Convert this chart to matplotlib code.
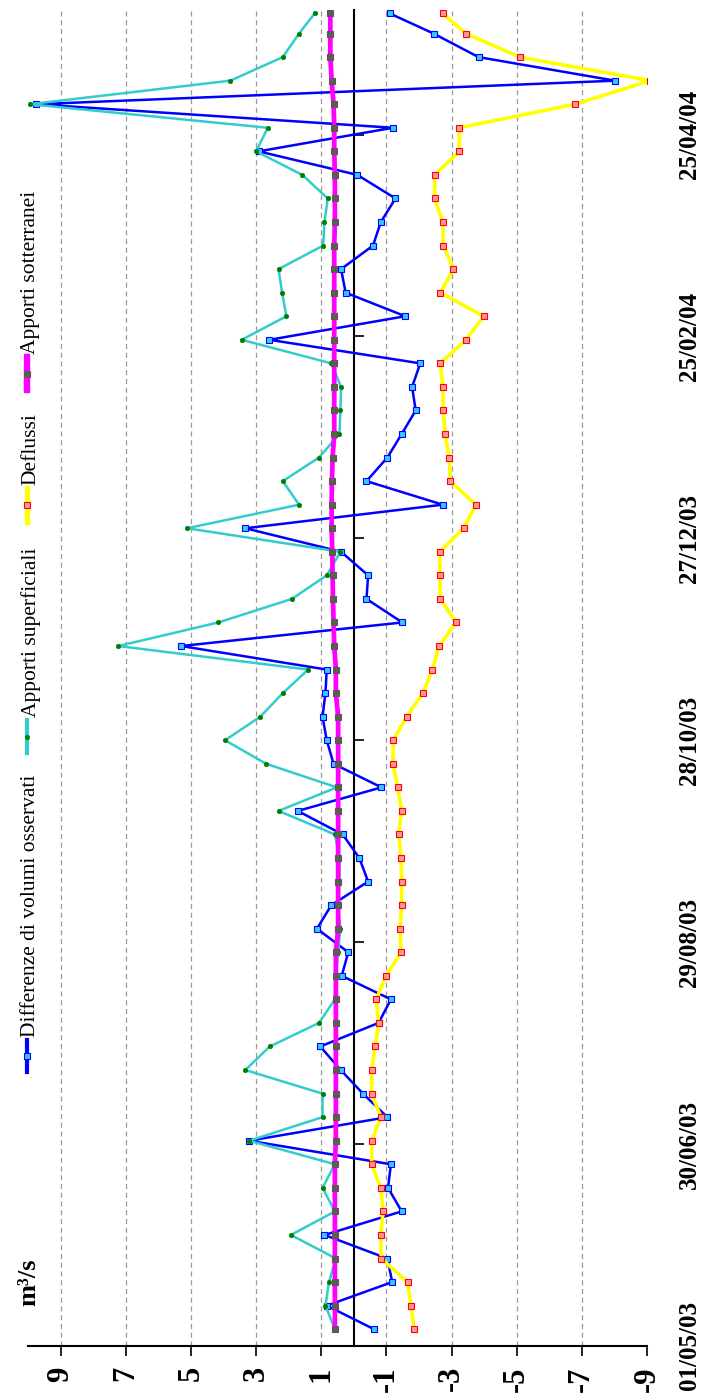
import numpy as np
import pandas as pd
import matplotlib
matplotlib.use("Agg")
import matplotlib.pyplot as plt
from matplotlib.lines import Line2D

# weekly observations (last one closes the month)
dates = list(pd.date_range("2003-05-06", "2004-05-25", freq="7D")) + [pd.Timestamp("2004-05-31")]

differenze = [-0.62, 0.83, -1.18, -1.03, 0.90, -1.47, -1.05, -1.14, 3.21, -1.03,
              -0.28, 0.40, 1.03, -0.76, -1.14, 0.37, 0.17, 1.13, 0.69, -0.44,
              -0.17, 0.34, 1.72, -0.85, 0.62, 0.83, 0.96, 0.87, 0.83, 5.30,
              -1.49, -0.39, -0.44, 0.39, 3.33, -2.73, -0.39, -1.03, -1.47, -1.90,
              -1.79, -2.04, 2.59, -1.58, 0.25, 0.39, -0.59, -0.83, -1.28, -0.11,
              2.92, -1.20, 9.75, -8.02, -3.83, -2.45, -1.10]

superficiali = [0.58, 0.87, 0.76, 0.55, 1.93, 0.58, 0.96, 0.58, 3.21, 0.96,
                0.96, 3.33, 2.58, 1.07, 0.58, 0.55, 0.48, 0.41, 0.50, 0.44,
                0.44, 0.58, 2.31, 0.52, 2.69, 3.95, 2.87, 2.18, 1.40, 7.23,
                4.16, 1.90, 0.83, 0.41, 5.12, 1.68, 2.18, 1.07, 0.44, 0.41,
                0.39, 0.69, 3.44, 2.07, 2.20, 2.31, 0.94, 0.90, 0.80, 1.58,
                3.00, 2.64, 9.95, 3.79, 2.18, 1.68, 1.20]

deflussi = [-1.85, -1.76, -1.65, -0.84, -0.83, -0.90, -0.83, -0.55, -0.55, -0.83,
            -0.55, -0.55, -0.66, -0.76, -0.69, -0.99, -1.45, -1.42, -1.47, -1.47,
            -1.45, -1.38, -1.47, -1.35, -1.20, -1.21, -1.63, -2.12, -2.41, -2.62,
            -3.14, -2.66, -2.64, -2.64, -3.37, -3.75, -2.96, -2.93, -2.80, -2.75,
            -2.73, -2.66, -3.44, -3.99, -2.66, -3.06, -2.75, -2.73, -2.48, -2.48,
            -3.24, -3.24, -6.79, -9.10, -5.10, -3.44, -2.73]

sotterranei = [0.58, 0.58, 0.58, 0.58, 0.58, 0.58, 0.58, 0.58, 0.55, 0.55,
               0.55, 0.55, 0.55, 0.55, 0.55, 0.55, 0.55, 0.48, 0.48, 0.48,
               0.48, 0.48, 0.48, 0.48, 0.48, 0.48, 0.48, 0.55, 0.55, 0.60,
               0.62, 0.64, 0.65, 0.66, 0.68, 0.68, 0.67, 0.65, 0.60, 0.60,
               0.60, 0.60, 0.60, 0.60, 0.60, 0.60, 0.60, 0.58, 0.58, 0.58,
               0.60, 0.60, 0.62, 0.68, 0.72, 0.72, 0.72]

series_names = ["Differenze di volumi osservati", "Apporti superficiali",
                "Deflussi", "Apporti sotterranei"]
date_ticks = pd.date_range("2003-05-01", periods=7, freq="60D")
value_ticks = [9, 7, 5, 3, 1, -1, -3, -5, -7, -9]

SERIF = "Liberation Serif"
W, H = 704, 1398

styles = [
    dict(color="#0000FF", lw=1.8, marker="s", ms=4, mfc="#33CCFF", mec="#0000FF", mew=0.8),
    dict(color="#33CCCC", lw=1.8, marker="o", ms=3.2, mfc="#008000", mec="#008000", mew=0.5),
    dict(color="#FFFF00", lw=2.6, marker="s", ms=4, mfc="#FF9999", mec="#FF0000", mew=0.8),
    dict(color="#FF00FF", lw=3.4, marker="s", ms=4.5, mfc="#4B6B3B", mec="#7F3F7F", mew=0.8),
]

fig = plt.figure(figsize=(W / 100, H / 100), dpi=100)
ax = fig.add_axes([28 / W, 52 / H, (647 - 28) / W, (1388 - 52) / H])

for vals, st in zip([differenze, superficiali, deflussi, sotterranei], styles):
    ax.plot(vals, dates, zorder=3, **st)

ax.set_xlim(10, -9)
ax.set_ylim(pd.Timestamp("2003-05-01"), pd.Timestamp("2004-06-01"))

# value axis (drawn at the bottom, read sideways)
ax.set_xticks(value_ticks)
ax.set_xticklabels([str(v) for v in value_ticks], rotation=90,
                   fontfamily=SERIF, fontweight="bold", fontsize=22)
ax.tick_params(axis="x", direction="out", length=7.5, width=1.2, pad=7)
ax.xaxis.grid(True, linestyle=(0, (4, 3)), color="#999999", lw=0.9)
for t in ax.xaxis.get_major_ticks():
    if t.get_loc() == -9:
        t.gridline.set_visible(False)

# date axis sits on the zero line, labels out on the right
ax.spines["top"].set_visible(False)
ax.spines["right"].set_visible(False)
ax.spines["left"].set_position(("data", 0))
ax.spines["left"].set_linewidth(1.5)
ax.spines["bottom"].set_linewidth(1.5)
ax.set_yticks(date_ticks)
ax.set_yticklabels([d.strftime("%d/%m/%y") for d in date_ticks])
ax.tick_params(axis="y", left=True, right=False, labelleft=False, labelright=True,
               direction="in", length=7, width=1.2, pad=22)
for t in ax.yaxis.get_major_ticks():
    t.label2.set_rotation(90)
    t.label2.set_va("center")
    t.label2.set_ha("left")
    t.label2.set_fontfamily(SERIF)
    t.label2.set_fontweight("bold")
    t.label2.set_fontsize(18)

# unit label
fig.text(29 / W, 1 - 1282 / H, "m³/s", rotation=90, ha="center", va="center",
         fontfamily=SERIF, fontweight="bold", fontsize=19)

# legend, stacked along the left edge
legend_spans = [(1072, 1040), (753, 720), (522, 488), (390, 357)]
for name, st, (y0, y1) in zip(series_names, styles, legend_spans):
    fx = 27 / W
    fig.add_artist(Line2D([fx, fx], [1 - y0 / H, 1 - y1 / H], transform=fig.transFigure,
                          color=st["color"], lw=st["lw"] + 1.2))
    fig.add_artist(Line2D([fx], [1 - (y0 + y1) / 2 / H], transform=fig.transFigure,
                          ls="none", marker=st["marker"], ms=st["ms"], mfc=st["mfc"],
                          mec=st["mec"], mew=st["mew"]))
    fig.text(31 / W, 1 - (y1 - 3) / H, name, rotation=90, ha="center", va="bottom",
             fontfamily=SERIF, fontsize=15.5)

fig.savefig("out.png", dpi=100)
